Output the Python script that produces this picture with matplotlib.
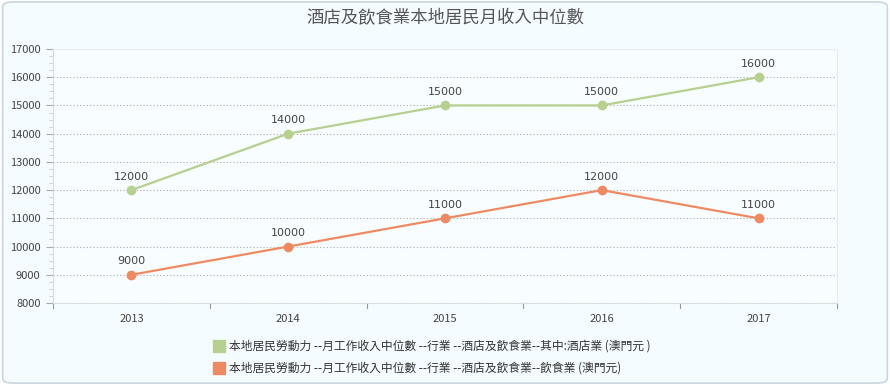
import matplotlib
matplotlib.use("Agg")
import matplotlib.pyplot as plt
from matplotlib.patches import FancyBboxPatch
from matplotlib.lines import Line2D
from matplotlib.ticker import MultipleLocator

plt.rcParams["font.family"] = ["Noto Sans CJK TC", "DejaVu Sans"]

years = ["2013", "2014", "2015", "2016", "2017"]
hotel = [12000, 14000, 15000, 15000, 16000]
food = [9000, 10000, 11000, 12000, 11000]
labels = [
    "本地居民勞動力 --月工作收入中位數 --行業 --酒店及飲食業--其中:酒店業 (澳門元 )",
    "本地居民勞動力 --月工作收入中位數 --行業 --酒店及飲食業--飲食業 (澳門元)",
]
colors = ["#b7cf8f", "#ee8a62"]

fig = plt.figure(figsize=(8.9, 3.85), dpi=100)
fig.patch.set_facecolor("white")
bg = FancyBboxPatch((0.003, 0.005), 0.994, 0.99, boxstyle="round,pad=0,rounding_size=0.012",
                    transform=fig.transFigure, facecolor="#f5fcff", edgecolor="#c9d6de",
                    linewidth=1.2, zorder=-10)
fig.patches.append(bg)

ax = fig.add_axes([0.0596, 0.213, 0.8808, 0.6597])
ax.set_facecolor("#f8fdff")
x = range(len(years))
for vals, c in zip([hotel, food], colors):
    ax.plot(x, vals, color=c, linewidth=1.6, marker="o", markersize=6, zorder=3)
    for xi, v in zip(x, vals):
        ax.annotate(f"{v}", (xi, v), xytext=(0, 6), textcoords="offset points",
                    ha="center", va="bottom", fontsize=8, color="#444444",
                    family="DejaVu Sans")

ax.set_xlim(-0.5, 4.5)
ax.set_ylim(8000, 17000)
ax.set_xticks(list(x))
ax.set_xticklabels(years)
ax.yaxis.set_major_locator(MultipleLocator(1000))
ax.yaxis.set_minor_locator(MultipleLocator(250))
ax.grid(axis="y", which="major", linestyle=(0, (1, 2)), color="#aaaaaa", linewidth=0.8)
ax.set_axisbelow(True)
for s in ["top", "right"]:
    ax.spines[s].set_color("#e6ecf0")
for s in ["left", "bottom"]:
    ax.spines[s].set_color("#d8dde2")
ax.tick_params(axis="y", which="major", length=5, color="#aaaaaa", labelsize=8,
               labelcolor="#444444", pad=4)
ax.tick_params(axis="y", which="minor", length=3, color="#cccccc")
ax.tick_params(axis="x", length=0, labelsize=8, labelcolor="#444444", pad=8)
for xb in [-0.5, 0.5, 1.5, 2.5, 3.5, 4.5]:
    ax.plot([xb, xb], [8000, 8000 - 9000 * 0.018], color="#999999", linewidth=0.8,
            clip_on=False)

fig.text(0.5, 0.953, "酒店及飲食業本地居民月收入中位數", ha="center", va="center",
         fontsize=12.5, fontweight="medium", color="#555555")

handles = [Line2D([], [], linestyle="none", marker="s", markersize=9,
                  markerfacecolor=c, markeredgecolor=c) for c in colors]
fig.legend(handles, labels, loc="upper left", bbox_to_anchor=(0.228, 0.145),
           frameon=False, fontsize=8.5, labelcolor="#333333", handletextpad=0.3,
           labelspacing=0.75, handlelength=1)

fig.savefig("out.png", dpi=100, facecolor=fig.get_facecolor())
